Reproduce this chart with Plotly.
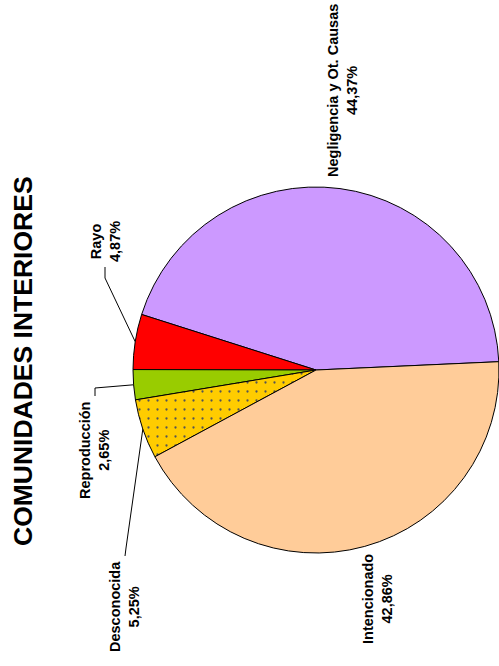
import math
import plotly.graph_objects as go

W, H = 499, 666

causes = ["Negligencia y Ot. Causas", "Rayo", "Reproducción", "Desconocida", "Intencionado"]
shares = [44.37, 4.87, 2.65, 5.25, 42.86]
share_text = ["44,37%", "4,87%", "2,65%", "5,25%", "42,86%"]
colors = ["#CC99FF", "#FF0000", "#99CC00", "#FFCC00", "#FFCC99"]
patterns = ["", "", "", ".", ""]

# label block centres (px) and leader line start points (px)
label_pos = [(343, 91), (105, 242), (94, 451), (124, 607), (377, 599)]
leader_start = [None, [(105, 267), (105, 278)], [(95, 396), (95, 388)], [(125, 556), (126, 548)], None]

START_MATH = 2.6  # angle (deg, ccw from 3 o'clock) where the first slice begins
total = sum(shares)
# plotly ccw: rotation marks the boundary between first and second slice
ROTATION = 90 - START_MATH - shares[0] / total * 360

# pie centre / radius in px (right side runs off the page)
CX, CY, R = 317, 370, 184


def px(x, y):
    return x / W, 1 - y / H


# domain: full width to the right edge, height set so plotly keeps the radius
DOM_X = [(CX - R) / W, 1.0]
r_eff = min(W - (CX - R), 2 * R) / 2
CX_eff = (CX - R) + r_eff
DOM_Y = [1 - (CY + r_eff) / H, 1 - (CY - r_eff) / H]

fig = go.Figure(go.Pie(
    labels=causes,
    values=shares,
    sort=False,
    direction="counterclockwise",
    rotation=ROTATION,
    textinfo="none",
    hoverinfo="label+percent",
    marker=dict(
        colors=colors,
        line=dict(color="black", width=1),
        pattern=dict(shape=patterns, fgcolor="#555555", bgcolor=colors,
                     size=9, solidity=0.05),
    ),
    domain=dict(x=DOM_X, y=DOM_Y),
    showlegend=False,
))

acc = 0
for i, (name, val) in enumerate(zip(causes, shares)):
    mid = START_MATH + (acc + val / 2) / total * 360
    acc += val
    lx, ly = label_pos[i]
    ax_, ay_ = px(lx, ly)
    fig.add_annotation(
        x=ax_, y=ay_, xref="paper", yref="paper", xanchor="center", yanchor="middle",
        text=f"{name}<br>{share_text[i]}",
        textangle=-90, showarrow=False, align="center",
        font=dict(family="Liberation Sans, Arial", size=14.5, color="black", weight="bold"),
    )
    if leader_start[i]:
        ex = CX_eff + r_eff * math.cos(math.radians(mid))
        ey = CY - r_eff * math.sin(math.radians(mid))
        pts = leader_start[i] + [(ex, ey)]
        for (xa, ya), (xb, yb) in zip(pts[:-1], pts[1:]):
            p0, p1 = px(xa, ya), px(xb, yb)
            fig.add_shape(type="line", xref="paper", yref="paper",
                          x0=p0[0], y0=p0[1], x1=p1[0], y1=p1[1],
                          line=dict(color="black", width=1))

tx, ty = px(23, 361)
fig.add_annotation(
    x=tx, y=ty, xref="paper", yref="paper", xanchor="center", yanchor="middle",
    text="COMUNIDADES INTERIORES", textangle=-90, showarrow=False,
    font=dict(family="Liberation Sans, Arial", size=26.5, color="black", weight="bold"),
)

fig.update_layout(
    width=W, height=H,
    margin=dict(l=0, r=0, t=0, b=0),
    paper_bgcolor="white",
    plot_bgcolor="white",
)

# drop the browser's default body margin so the figure sits at the page corner
fig.write_html("out.html", config={"displayModeBar": False},
               post_script="document.body.style.margin='0px';")
